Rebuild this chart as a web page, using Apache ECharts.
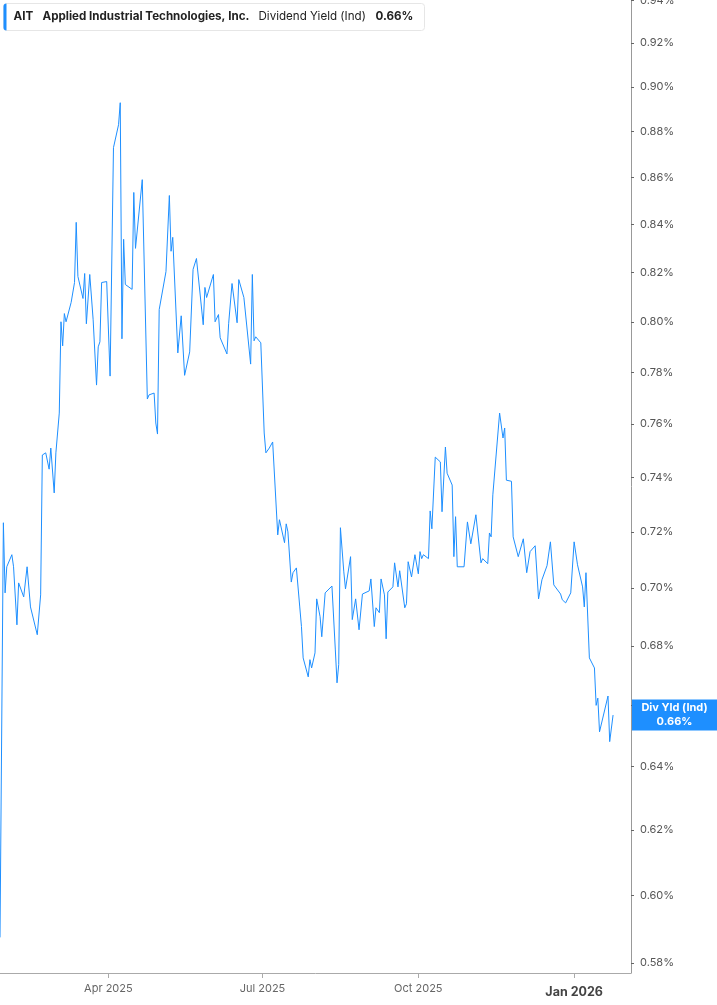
<!DOCTYPE html>
<html>
<head>
<meta charset="utf-8">
<script src="https://cdn.jsdelivr.net/npm/echarts@6/dist/echarts.min.js"></script>
<style>
html,body{margin:0;padding:0;background:#fff;}
#chart{width:717px;height:1005px;}
</style>
</head>
<body>
<div id="chart"></div>
<script>
const dates = ['2025-01-27','2025-01-29','2025-01-30','2025-01-31','2025-02-03','2025-02-04','2025-02-06','2025-02-07','2025-02-10','2025-02-12',
'2025-02-14','2025-02-18','2025-02-20','2025-02-21','2025-02-23','2025-02-25','2025-02-26','2025-02-27','2025-02-28','2025-03-01',
'2025-03-03','2025-03-04','2025-03-05','2025-03-06','2025-03-07','2025-03-10','2025-03-12','2025-03-13','2025-03-14','2025-03-17',
'2025-03-18','2025-03-19','2025-03-21','2025-03-23','2025-03-25','2025-03-26','2025-03-27','2025-03-28','2025-03-31','2025-04-02',
'2025-04-04','2025-04-07','2025-04-08','2025-04-09','2025-04-10','2025-04-11','2025-04-15','2025-04-16','2025-04-17','2025-04-21',
'2025-04-24','2025-04-25','2025-04-28','2025-04-29','2025-04-30','2025-05-01','2025-05-05','2025-05-07','2025-05-08','2025-05-09',
'2025-05-12','2025-05-14','2025-05-16','2025-05-19','2025-05-21','2025-05-23','2025-05-27','2025-05-28','2025-05-29','2025-06-02',
'2025-06-03','2025-06-05','2025-06-06','2025-06-10','2025-06-11','2025-06-12','2025-06-13','2025-06-16','2025-06-17','2025-06-20',
'2025-06-24','2025-06-25','2025-06-26','2025-06-27','2025-06-30','2025-07-02','2025-07-03','2025-07-05','2025-07-07','2025-07-10',
'2025-07-11','2025-07-14','2025-07-15','2025-07-16','2025-07-18','2025-07-19','2025-07-21','2025-07-23','2025-07-24','2025-07-25',
'2025-07-28','2025-07-29','2025-07-30','2025-08-01','2025-08-02','2025-08-04','2025-08-05','2025-08-07','2025-08-11','2025-08-13',
'2025-08-14','2025-08-15','2025-08-16','2025-08-18','2025-08-19','2025-08-20','2025-08-22','2025-08-23','2025-08-25','2025-08-27',
'2025-08-29','2025-09-02','2025-09-03','2025-09-05','2025-09-06','2025-09-08','2025-09-09','2025-09-11','2025-09-12','2025-09-13',
'2025-09-16','2025-09-17','2025-09-19','2025-09-20','2025-09-23','2025-09-24','2025-09-25','2025-09-26','2025-09-27','2025-09-29',
'2025-10-01','2025-10-02','2025-10-03','2025-10-04','2025-10-07','2025-10-08','2025-10-09','2025-10-11','2025-10-14','2025-10-15',
'2025-10-17','2025-10-18','2025-10-21','2025-10-22','2025-10-23','2025-10-24','2025-10-25','2025-10-28','2025-10-30','2025-11-01',
'2025-11-04','2025-11-07','2025-11-08','2025-11-11','2025-11-12','2025-11-13','2025-11-14','2025-11-18','2025-11-20','2025-11-21',
'2025-11-22','2025-11-25','2025-11-26','2025-11-29','2025-12-02','2025-12-04','2025-12-06','2025-12-09','2025-12-10','2025-12-11',
'2025-12-13','2025-12-16','2025-12-18','2025-12-20','2025-12-24','2025-12-25','2025-12-27','2025-12-30','2026-01-01','2026-01-03',
'2026-01-06','2026-01-07','2026-01-08','2026-01-10','2026-01-13','2026-01-14','2026-01-15','2026-01-16','2026-01-21','2026-01-22',
'2026-01-24'];

const yields = [0.5875,0.7233,0.6983,0.7075,0.7118,0.7075,0.6872,0.7018,0.6969,0.7075,
0.6934,0.6838,0.6976,0.7483,0.7491,0.7430,0.7509,0.7513,0.7342,0.7491,
0.7642,0.8000,0.7904,0.8033,0.8000,0.8078,0.8159,0.8409,0.8184,0.8094,
0.8196,0.7992,0.8192,0.8008,0.7750,0.7900,0.7920,0.8159,0.8163,0.7785,
0.8730,0.8831,0.8929,0.7932,0.8338,0.8151,0.8131,0.8536,0.8300,0.8591,
0.7696,0.7712,0.7719,0.7604,0.7562,0.8049,0.8204,0.8523,0.8288,0.8346,
0.7876,0.8024,0.7788,0.7880,0.8213,0.8258,0.7988,0.8139,0.8098,0.8192,
0.8000,0.8029,0.7936,0.7872,0.7992,0.7992,0.8155,0.7996,0.8171,0.8098,
0.7832,0.8192,0.7924,0.7940,0.7916,0.7566,0.7491,0.7509,0.7532,0.7189,
0.7244,0.7161,0.7229,0.7200,0.7021,0.7054,0.7071,0.6934,0.6866,0.6759,
0.6695,0.6753,0.6725,0.6776,0.6962,0.6900,0.6831,0.6983,0.7007,0.6786,
0.6675,0.6736,0.7215,0.7057,0.6997,0.7004,0.7111,0.6890,0.6962,0.6855,
0.6979,0.6990,0.7032,0.6866,0.6931,0.6914,0.7032,0.6976,0.6824,0.6986,
0.7004,0.7089,0.7004,0.7061,0.6931,0.6945,0.7093,0.7096,0.7039,0.7118,
0.7050,0.7129,0.7104,0.7118,0.7104,0.7276,0.7211,0.7475,0.7457,0.7273,
0.7513,0.7415,0.7371,0.7111,0.7255,0.7075,0.7068,0.7075,0.7236,0.7157,
0.7262,0.7089,0.7104,0.7086,0.7196,0.7182,0.7335,0.7642,0.7547,0.7585,
0.7389,0.7385,0.7182,0.7111,0.7175,0.7054,0.7129,0.7150,0.7146,0.6962,
0.7029,0.7079,0.7164,0.7011,0.6979,0.6959,0.6948,0.6983,0.7164,0.7082,
0.7004,0.6934,0.7054,0.6759,0.6725,0.6600,0.6624,0.6513,0.6631,0.6481,
0.6568];

const yTicks = [0.58,0.60,0.62,0.64,0.66,0.68,0.70,0.72,0.74,0.76,0.78,0.80,0.82,0.84,0.86,0.88,0.90,0.92,0.94];
const xTickDates = ['2025-04-01','2025-07-01','2025-10-01','2026-01-01'];
const xTickLabels = ['Apr 2025','Jul 2025','Oct 2025','Jan 2026'];
const xRange = ['2025-01-27','2026-02-03 14:00'];
const yRange = [0.5771, 0.9401];

const FONT = 'Inter, "Noto Sans", sans-serif';
const BLUE = '#1e8fff';
const t = s => echarts.number.parseDate(s).getTime();
const xTickVals = xTickDates.map(t);

const chart = echarts.init(document.getElementById('chart'));
const lastVal = yields[yields.length - 1];

chart.setOption({
  animation: false,
  textStyle: {fontFamily: FONT},
  grid: {left: 0, right: 86, top: 0, bottom: 32, containLabel: false, outerBoundsMode: 'none'},
  xAxis: {
    type: 'value',
    min: t(xRange[0]),
    max: t(xRange[1]),
    axisLine: {show: true, lineStyle: {color: '#aaaaaa', width: 1}},
    axisTick: {show: true, length: 5, lineStyle: {color: '#aaaaaa'}, customValues: xTickVals},
    splitLine: {show: false},
    axisLabel: {
      customValues: xTickVals,
      margin: 10,
      fontSize: 11,
      color: '#666666',
      fontFamily: FONT,
      formatter: function (v) {
        let best = 0;
        xTickVals.forEach((tv, k) => { if (Math.abs(tv - v) < Math.abs(xTickVals[best] - v)) best = k; });
        const lab = xTickLabels[best];
        return lab.indexOf('Jan') === 0 ? '{b|' + lab + '}' : lab;
      },
      rich: {b: {fontSize: 12.5, fontWeight: 'bold', color: '#444444', fontFamily: FONT, padding: [3, 0, 0, 0]}}
    }
  },
  yAxis: {
    type: 'log',
    logBase: 10,
    position: 'right',
    min: yRange[0],
    max: yRange[1],
    axisLine: {show: true, lineStyle: {color: '#999999', width: 1}},
    axisTick: {show: true, length: 3, lineStyle: {color: '#666666'}, customValues: yTicks},
    splitLine: {show: false},
    axisLabel: {
      customValues: yTicks,
      margin: 9,
      fontSize: 11,
      color: '#555555',
      fontFamily: FONT,
      formatter: v => Number(v).toFixed(2) + '%'
    }
  },
  series: [{
    type: 'line',
    data: dates.map((d, i) => [t(d), yields[i]]),
    showSymbol: false,
    symbol: 'none',
    lineStyle: {color: BLUE, width: 1},
    itemStyle: {color: BLUE},
    clip: true
  }]
});

const yPix = chart.convertToPixel({yAxisIndex: 0}, lastVal);
const LF = '11.6px ' + FONT;
const LFB = 'bold 11.6px ' + FONT;
chart.setOption({
  graphic: [
    {
      type: 'group', left: 3, top: 3, z: 100, zlevel: 1,
      children: [
        {type: 'rect', z: 100, zlevel: 1, shape: {x: 0, y: 0, width: 421, height: 27, r: 3}, style: {fill: '#ffffff', stroke: '#e6e6e6', lineWidth: 1}},
        {type: 'rect', z: 101, zlevel: 1, shape: {x: 0, y: 0, width: 3, height: 27, r: [3, 0, 0, 3]}, style: {fill: BLUE}},
        {type: 'text', z: 101, zlevel: 1, x: 10, y: 13.5, style: {text: 'AIT', font: LFB, fill: '#222222', verticalAlign: 'middle'}},
        {type: 'text', z: 101, zlevel: 1, x: 39, y: 13.5, style: {text: 'Applied Industrial Technologies, Inc.', font: LFB, fill: '#222222', verticalAlign: 'middle'}},
        {type: 'text', z: 101, zlevel: 1, x: 255, y: 13.5, style: {text: 'Dividend Yield (Ind)', font: LF, fill: '#222222', verticalAlign: 'middle'}},
        {type: 'text', z: 101, zlevel: 1, x: 372, y: 13.5, style: {text: lastVal.toFixed(2) + '%', font: LFB, fill: '#222222', verticalAlign: 'middle'}}
      ]
    },
    {
      type: 'group', x: 632, y: yPix, z: 100, zlevel: 1,
      children: [
        {type: 'rect', z: 100, zlevel: 1, shape: {x: 0, y: -15.5, width: 85, height: 31}, style: {fill: BLUE}},
        {type: 'text', z: 101, zlevel: 1, x: 42.5, y: -7, style: {text: 'Div Yld (Ind)', font: 'bold 11px ' + FONT, fill: '#ffffff', align: 'center', verticalAlign: 'middle'}},
        {type: 'text', z: 101, zlevel: 1, x: 42.5, y: 7, style: {text: lastVal.toFixed(2) + '%', font: 'bold 11px ' + FONT, fill: '#ffffff', align: 'center', verticalAlign: 'middle'}}
      ]
    }
  ]
});
</script>
</body>
</html>
